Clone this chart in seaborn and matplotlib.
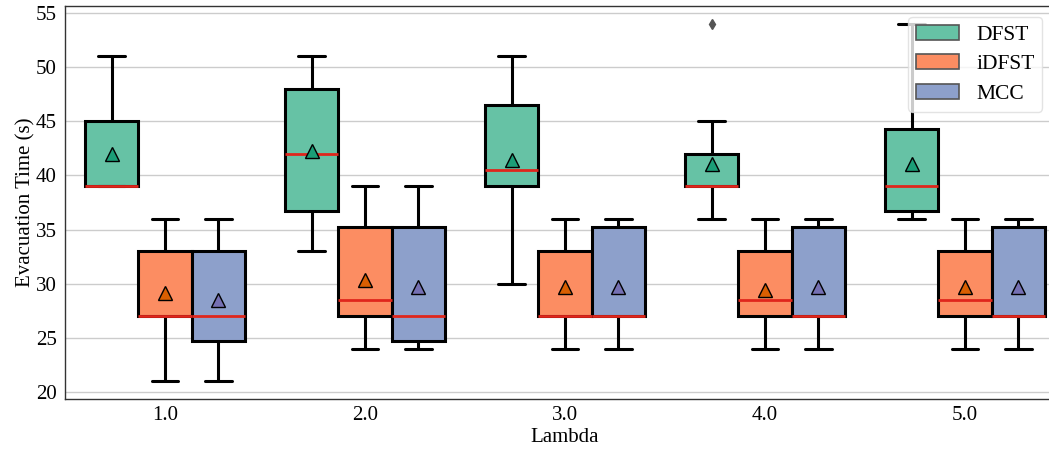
import matplotlib
matplotlib.use("Agg")
import matplotlib.pyplot as plt
import seaborn as sns
import pandas as pd
import numpy as np

# ---- data (evacuation times in seconds, 10 runs per setting) ----
lambda_labels = ["1.0", "2.0", "3.0", "4.0", "5.0"]
methods = ["DFST", "iDFST", "MCC"]

dfst_times = [
    [39, 39, 39, 39, 39, 39, 45, 45, 45, 51],
    [33, 36, 36, 39, 42, 42, 48, 48, 48, 51],
    [30, 36, 39, 39, 39, 42, 42, 48, 48, 51],
    [36, 36, 39, 39, 39, 39, 42, 42, 45, 54],
    [36, 36, 36, 39, 39, 39, 42, 45, 45, 54],
]
idfst_times = [
    [21, 24, 27, 27, 27, 27, 33, 33, 36, 36],
    [24, 24, 27, 27, 27, 30, 33, 36, 36, 39],
    [24, 27, 27, 27, 27, 27, 33, 33, 36, 36],
    [24, 24, 27, 27, 27, 30, 33, 33, 33, 36],
    [24, 24, 27, 27, 27, 30, 33, 33, 36, 36],
]
mcc_times = [
    [21, 24, 24, 27, 27, 27, 33, 33, 33, 36],
    [24, 24, 24, 27, 27, 27, 33, 36, 36, 39],
    [24, 24, 27, 27, 27, 27, 33, 36, 36, 36],
    [24, 24, 27, 27, 27, 27, 33, 36, 36, 36],
    [24, 24, 27, 27, 27, 27, 33, 36, 36, 36],
]

box_colors = ["#66c2a5", "#fc8d62", "#8da0cb"]
mean_colors = ["#1b9e77", "#d95f02", "#7570b3"]

rows = []
for method, table in zip(methods, [dfst_times, idfst_times, mcc_times]):
    for lam, vals in zip(lambda_labels, table):
        for v in vals:
            rows.append({"Lambda": lam, "Method": method, "Time": v})
df = pd.DataFrame(rows)

# ---- style ----
sns.set_theme(style="whitegrid")
plt.rcParams["font.family"] = ["Liberation Serif", "DejaVu Serif"]
plt.rcParams["text.color"] = "black"
plt.rcParams["axes.labelcolor"] = "black"
plt.rcParams["xtick.color"] = "black"
plt.rcParams["ytick.color"] = "black"

fig = plt.figure(figsize=(10.49, 4.53), dpi=100)
W, H = 1049, 453
ax = fig.add_axes([65 / W, (H - 399) / H, 1000 / W, 393 / H])

sns.boxplot(
    data=df, x="Lambda", y="Time", hue="Method",
    order=lambda_labels, hue_order=methods,
    palette=box_colors, saturation=1, width=0.8, gap=0,
    linecolor="black", linewidth=2.2,
    showmeans=True,
    meanprops=dict(marker="^", markeredgecolor="black", markersize=10,
                   markeredgewidth=1.0),
    medianprops=dict(color="#e0261c", linewidth=2),
    flierprops=dict(marker="d", markerfacecolor="#555555",
                    markeredgecolor="#555555", markersize=5),
    ax=ax,
)

# colour mean markers by method using their offset within the group
offsets = np.array([-0.8 / 3, 0.0, 0.8 / 3])
for ln in ax.lines:
    if ln.get_marker() == "^":
        x = np.asarray(ln.get_xdata(), dtype=float)[0]
        off = x - round(x)
        idx = int(np.argmin(np.abs(offsets - off)))
        ln.set_markerfacecolor(mean_colors[idx])

ax.set_xlim(-0.5, 4.5)
ax.set_xlabel("Lambda", fontsize=15, labelpad=2)
ax.set_ylabel("Evacuation Time (s)", fontsize=15, labelpad=0)
ax.tick_params(axis="both", labelsize=15, length=4, width=0.8,
               colors="black", pad=2)
ax.tick_params(axis="x", length=3, color="#888888")
ax.tick_params(axis="y", color="#444444")
ax.set_yticks([20, 25, 30, 35, 40, 45, 50, 55])

ax.grid(axis="y", color="#cccccc", linewidth=1.0)
ax.grid(axis="x", visible=False)
ax.set_axisbelow(True)
for s in ax.spines.values():
    s.set_visible(True)
    s.set_color("#333333")
    s.set_linewidth(1.0)

handles, labels = ax.get_legend_handles_labels()
if ax.get_legend() is not None:
    ax.get_legend().remove()
leg = ax.legend(
    handles, labels, loc="upper right",
    bbox_to_anchor=(1042 / W, (H - 17) / H), bbox_transform=fig.transFigure,
    borderaxespad=0, fontsize=15.5, handlelength=2.0, handleheight=0.7,
    labelspacing=0.45, handletextpad=0.8, borderpad=0.35, frameon=True,
    framealpha=0.8, edgecolor="#dddddd", fancybox=True,
)
for h in leg.legend_handles:
    h.set_edgecolor("#555555")
    h.set_linewidth(1.2)

fig.savefig("out.png", dpi=100)
